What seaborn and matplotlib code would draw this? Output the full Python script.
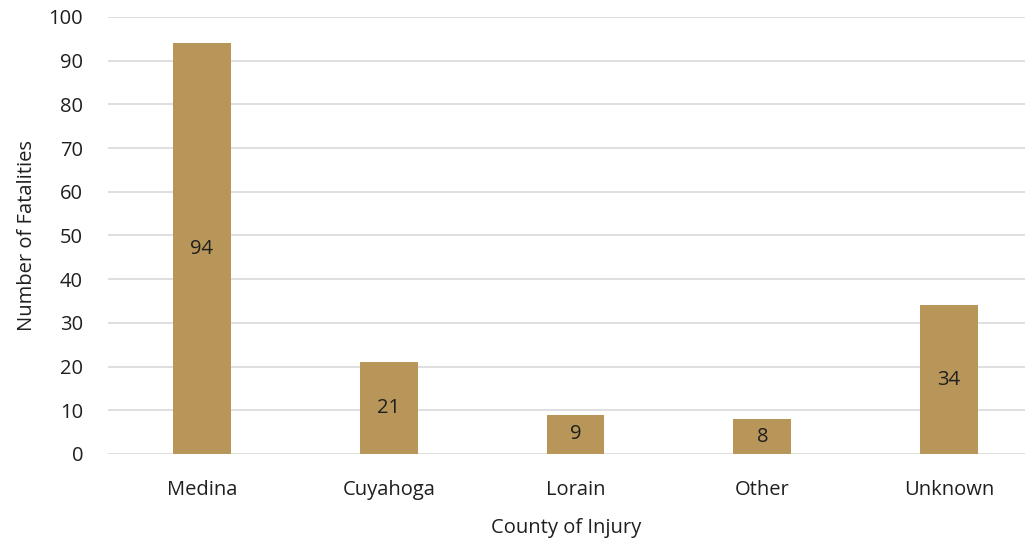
import matplotlib
matplotlib.use('Agg')
import matplotlib.pyplot as plt
import seaborn as sns
import pandas as pd

# Fatalities by county of injury
counties = ['Medina', 'Cuyahoga', 'Lorain', 'Other', 'Unknown']
fatalities = [94, 21, 9, 8, 34]
y_ticks = [0, 10, 20, 30, 40, 50, 60, 70, 80, 90, 100]

bar_color = '#B89558'
text_color = '#1F1F1F'

sns.set_theme(style='white')
plt.rcParams['font.family'] = ['Open Sans', 'DejaVu Sans']

df = pd.DataFrame({'county': counties, 'fatalities': fatalities})

fig = plt.figure(figsize=(10.29, 5.46), dpi=100)
ax = fig.add_axes([0.105, 0.1685, 0.891, 0.8005])

sns.barplot(data=df, x='county', y='fatalities', color=bar_color,
            width=0.31, saturation=1, linewidth=0, ax=ax, zorder=3)

# value labels in the middle of each bar
for i, v in enumerate(fatalities):
    ax.text(i, v / 2, str(v), ha='center', va='center',
            fontsize=14.5, color=text_color, zorder=4)

ax.set_ylim(0, 100)
ax.set_xlim(-0.503, 4.406)
ax.set_yticks(y_ticks)
ax.yaxis.grid(True, color='#D9D9D9', linewidth=1.2, zorder=0)
ax.set_axisbelow(True)
for s in ax.spines.values():
    s.set_visible(False)

ax.tick_params(axis='both', length=0, labelsize=14.5, colors=text_color)
ax.tick_params(axis='y', pad=18)
ax.tick_params(axis='x', pad=19)
ax.set_xlabel('County of Injury', fontsize=14.5, color=text_color, labelpad=13)
ax.set_ylabel('Number of Fatalities', fontsize=14.5, color=text_color, labelpad=8)

fig.savefig('out.png', dpi=100)
